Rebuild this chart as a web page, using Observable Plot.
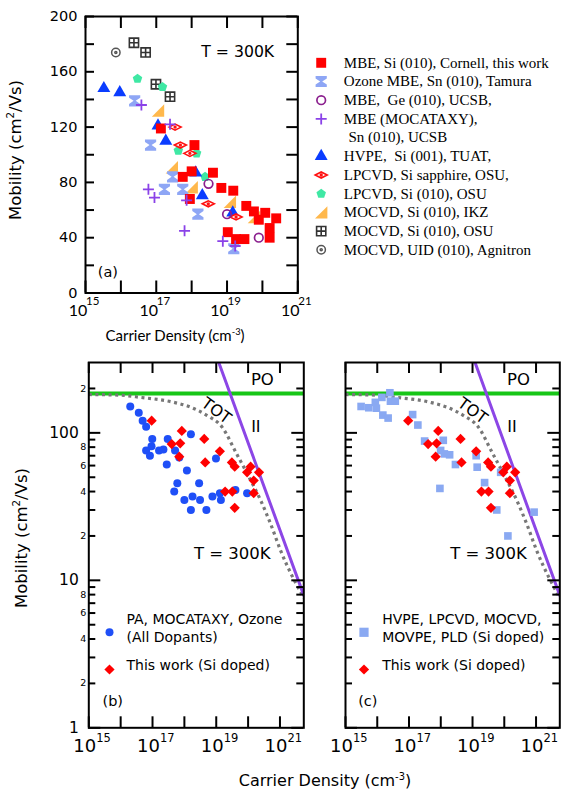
<!DOCTYPE html>
<html><head><meta charset="utf-8">
<script src="https://cdn.jsdelivr.net/npm/d3@7"></script>
<script src="https://cdn.jsdelivr.net/npm/@observablehq/plot@0.6"></script>
<style>
body{margin:0;background:#fff;}
#root{position:relative;width:568px;height:791px;overflow:hidden;font-family:"DejaVu Sans",sans-serif;background:#fff;}
.box{position:absolute;}
.box svg{overflow:visible;background:transparent;display:block;}
.lab{position:absolute;white-space:nowrap;line-height:1;}
.lab sup{font-size:0.62em;line-height:0;vertical-align:0.62em;}
</style></head><body><div id="root"></div>
<script>
// ---------- Panel (a): carrier density (cm^-3) / mobility (cm^2/Vs) ----------
const cornellN  = [1.35e17,1.2e18,5.6e17,1.0e18,4.0e18,6.9e18,1.5e19,8.9e17,3.5e19,5.75e19,1.2e20,2.45e20,7.9e19,1.6e20,1.05e19,1.8e19,3.1e19,1.6e20];
const cornellMu = [119,107,84,88,87,76,74,68,63,59,58,54,53,47,44,39,39,40];
const tamuraN   = [2.45e16,6.9e16,2.9e17,1.7e17,5.6e17,1.5e18,1.55e19];
const tamuraMu  = [139,107,84,75,75,57,32];
const geN       = [3.0e18,1.0e19,7.9e19];
const geMu      = [79,57,40];
const mocataxyN = [3.8e16,2.45e17,6.0e16,8.9e16,6.3e17,7.6e18,1.7e19,7.2e17];
const mocataxyMu= [136,122,75,69,45,37.5,34,67];
const hvpeN     = [3.3e15,9.3e15,1.12e17,1.86e17,1.3e18,2.0e18,1.45e19];
const hvpeMu    = [148,145,121,110,87,70.5,58];
const lpSapN    = [3.4e17,4.8e17,8.9e17,2.95e18,1.8e19];
const lpSapMu   = [120,107,101,64.5,55];
const lpSiN     = [2.95e16,1.5e17,4.2e17,1.38e18,2.4e18];
const lpSiMu    = [155,149,103,101,84];
const ikzN      = [1.12e17,2.75e17,1.0e18,1.2e19,5.75e19];
const ikzMu     = [132,91,76.5,66,55];
const osuN      = [2.34e16,5.0e16,9.8e16,2.45e17];
const osuMu     = [181,174,151,142];
const agnitronN = [7.2e15];
const agnitronMu= [174];

const legendLabels = [
  "MBE, Si (010), Cornell, this work",
  "Ozone MBE, Sn (010), Tamura",
  "MBE,\u00a0 Ge (010), UCSB,",
  "MBE (MOCATAXY),",
  "\u00a0Sn (010), UCSB",
  "HVPE,\u00a0 Si (001), TUAT,",
  "LPCVD, Si sapphire, OSU,",
  "LPCVD, Si (010), OSU",
  "MOCVD, Si (010), IKZ",
  "MOCVD, Si (010), OSU",
  "MOCVD, UID (010), Agnitron"
];

// ---------- Panels (b), (c) ----------
const allDopN  = [2.0e16,3.7e16,4.9e16,6.3e16,9.8e16,9.3e16,6.3e16,8.3e16,1.6e17,2.2e17,3.0e17,5.1e17,6.9e17,2.8e17,1.2e18,1.6e18,6.0e17,4.8e17,2.9e18,1.0e18,1.8e18,3.1e18,1.6e18,4.9e18,7.6e18,9.8e18,1.3e19,1.4e19,4.0e19,9.3e19];
const allDopMu = [151,137,121,110,91,81,76,70,76,77,91,76,68,61,55.5,98,45.6,40,45.6,35,37,35,30,30,37,67,39,35,41,39];
const thisWorkN  = [9.4e16,8.3e17,4.0e17,7.4e17,6.9e17,4.2e18,1.3e19,4.5e18,3.1e19,3.8e19,1.2e20,9.3e19,2.2e20,1.5e20,1.9e19,3.2e19,1.5e20,3.8e19];
const thisWorkMu = [121,103,84,85,69,91,75,63,63,59,59,54,54,47.5,40,40,39,31];
const siDopN  = [3.1e15,5.4e15,8.7e15,9.4e15,1.4e16,2.5e16,2.6e16,3.7e16,1.5e16,2.2e16,1.3e17,1.9e17,3.1e17,1.2e18,9.9e17,1.3e18,1.9e18,2.9e18,1.3e19,1.4e19,9.4e17,2.4e19,5.8e19,7.7e19,1.3e20,8.7e20];
const siDopMu = [151,148,161,147,174,187,164,164,132,126,133,113,88,89,76,72,71,61,70,58.5,42,46,30,54,20,29];

const poMobility = [185];
const totN  = [1e15,1e16,4.2e16,4.7e17,1.6e18,5.2e18,1.55e19,4.1e19,9.5e19,2.5e20,5.1e20,1.05e21,5.6e21];
const totMu = [182,180,174,161,149,131,109,74,52.6,34.7,24.1,15.9,7.6];
const iiN  = [1.2e19,5.6e21];
const iiMu = [300,7.9];

// tick values / labels
const aXTicks = [1e15,1e16,1e17,1e18,1e19,1e20,1e21];
const aYTicks = [0,20,40,60,80,100,120,140,160,180,200];
const aYLabels = [0,40,80,120,160,200];
const xLabelTicks = [1e15,1e17,1e19,1e21];
const xLabelExp = ["15","17","19","21"];
const logMajor = [1,10,100];
const logMinor = [2,3,4,5,6,7,8,9,20,30,40,50,60,70,80,90,200];
const logSmallLabels = [2,4,6,8,20,40,60,80,200];

// ---------- helpers ----------
const root = document.getElementById("root");
const SANS = '"DejaVu Sans", sans-serif';
function place(svg, left, top){
  const d = document.createElement("div");
  d.className = "box"; d.style.left = left+"px"; d.style.top = top+"px";
  d.appendChild(svg); root.appendChild(d);
}
function label(html, cx, cy, size, family, rotate){
  const d = document.createElement("div");
  d.className = "lab"; d.innerHTML = html;
  d.style.left = cx+"px"; d.style.top = cy+"px";
  d.style.fontSize = size+"px"; d.style.fontFamily = family;
  d.style.transform = "translate(-50%,-50%)" + (rotate ? ` rotate(${rotate}deg)` : "");
  root.appendChild(d);
}
const zip = (ns, ms) => ns.map((n,i)=>({n, mu: ms[i]}));
const rr = s => Math.sqrt(s/Math.PI);
const symHourglass = {draw(c,s){const r=rr(s);c.moveTo(-r,-r);c.lineTo(r,-r);c.lineTo(r,-0.55*r);c.lineTo(0.18*r,0);c.lineTo(r,0.55*r);c.lineTo(r,r);c.lineTo(-r,r);c.lineTo(-r,0.55*r);c.lineTo(-0.18*r,0);c.lineTo(-r,-0.55*r);c.closePath();}};
const symEye = {draw(c,s){const r=rr(s);c.moveTo(-1.5*r,0);c.lineTo(0,-0.75*r);c.lineTo(1.5*r,0);c.lineTo(0,0.75*r);c.closePath();c.moveTo(0.22*r,0);c.arc(0,0,0.22*r,0,2*Math.PI);}};
const symPent = {draw(c,s){const r=rr(s);for(let i=0;i<5;i++){const a=-Math.PI/2+i*2*Math.PI/5;const x=r*Math.cos(a),y=r*Math.sin(a);i?c.lineTo(x,y):c.moveTo(x,y);}c.closePath();}};
const symRTri = {draw(c,s){const r=rr(s);c.moveTo(r,-r);c.lineTo(r,r);c.lineTo(-r,r);c.closePath();}};
const symGrid = {draw(c,s){const r=rr(s);c.rect(-r,-r,2*r,2*r);c.moveTo(0,-r);c.lineTo(0,r);c.moveTo(-r,0);c.lineTo(r,0);}};
const symCircDot = {draw(c,s){const r=rr(s);c.moveTo(r,0);c.arc(0,0,r,0,2*Math.PI);c.moveTo(0.25*r,0);c.arc(0,0,0.25*r,0,2*Math.PI);}};
const symPlus = {draw(c,s){const r=rr(s);c.moveTo(-r,0);c.lineTo(r,0);c.moveTo(0,-r);c.lineTo(0,r);}};

// series styling for panel (a), drawn in this order
const seriesA = [
  {n:osuN, mu:osuMu, symbol:symGrid, fill:"white", stroke:"#333", strokeWidth:1.6, r:4.6},
  {n:agnitronN, mu:agnitronMu, symbol:symCircDot, fill:"none", stroke:"#555", strokeWidth:1.5, r:4.2},
  {n:lpSiN, mu:lpSiMu, symbol:symPent, fill:"#3fe8a4", r:5},
  {n:ikzN, mu:ikzMu, symbol:symRTri, fill:"#ffb84c", r:6.2},
  {n:hvpeN, mu:hvpeMu, symbol:"triangle", fill:"#0a3cff", r:4.8},
  {n:tamuraN, mu:tamuraMu, symbol:symHourglass, fill:"#8ea6f5", r:5.6},
  {n:lpSapN, mu:lpSapMu, symbol:symEye, fill:"white", stroke:"#ff1010", strokeWidth:1.6, r:4},
  {n:geN, mu:geMu, symbol:"circle", fill:"none", stroke:"#8b1f8e", strokeWidth:1.7, r:4.3},
  {n:cornellN, mu:cornellMu, symbol:"square", fill:"#ff0000", r:5.6},
  {n:mocataxyN, mu:mocataxyMu, symbol:symPlus, fill:"none", stroke:"#8a42e8", strokeWidth:1.8, r:5.5}
];
// legend order -> series index (null = continuation line)
const legendSeries = [8,5,7,9,null,4,6,2,3,0,1];

// ---------- Panel (a) ----------
{
  const W=310,H=345,ml=85,mr=12.7,mt=16,mb=52.5;
  const iW=W-ml-mr, iH=H-mt-mb;
  const marks = [
    Plot.tickX(aXTicks,{x:d=>d, insetTop:iH-12, strokeWidth:2}),
    Plot.tickX(aXTicks,{x:d=>d, insetBottom:iH-12, strokeWidth:2}),
    Plot.tickY(aYTicks,{y:d=>d, insetRight:iW-9, strokeWidth:2}),
    Plot.tickY(aYTicks,{y:d=>d, insetLeft:iW-11, strokeWidth:2}),
    Plot.text(aYLabels,{y:d=>d, frameAnchor:"left", dx:-8, textAnchor:"end", text:d=>String(d), fontSize:14.5, fontFamily:SANS}),
    Plot.text(xLabelTicks,{x:d=>d, frameAnchor:"bottom", dy:22.5, dx:-7.5, text:()=>"10", fontSize:16, fontFamily:"Lato"}),
    Plot.text(xLabelTicks,{x:d=>d, frameAnchor:"bottom", dy:12, dx:0.5, textAnchor:"start", text:(d,i)=>xLabelExp[i], fontSize:11.5, fontFamily:"Lato"}),
    ...seriesA.map(s => Plot.dot(zip(s.n,s.mu),{x:"n", y:"mu", symbol:s.symbol, fill:s.fill, stroke:s.stroke||"none", strokeWidth:s.strokeWidth||1, r:s.r})),
    Plot.text([{t:"T = 300K", n:2.0e19, mu:174}],{x:"n", y:"mu", text:"t", fontSize:15.7, fontFamily:SANS}),
    Plot.text([{t:"(a)", n:4.3e15, mu:15}],{x:"n", y:"mu", text:"t", fontSize:14.5, fontFamily:SANS}),
    Plot.frame({strokeWidth:2})
  ];
  place(Plot.plot({width:W,height:H,marginLeft:ml,marginRight:mr,marginTop:mt,marginBottom:mb,
    x:{type:"log",domain:[1e15,1e21],axis:null}, y:{domain:[0,200],axis:null},
    style:{background:"transparent",overflow:"visible"}, marks}), 0, 0);
}

// ---------- Legend (a) ----------
{
  const marks = [];
  legendSeries.forEach((si,row)=>{
    if(si===null) return;
    const s = seriesA[si];
    marks.push(Plot.dot([row],{x:()=>0, y:d=>d, symbol:s.symbol, fill:s.fill, stroke:s.stroke||"none", strokeWidth:s.strokeWidth||1, r:s.r}));
  });
  marks.push(Plot.text(legendLabels,{x:(d,i)=>i===4?1.04:1, y:(d,i)=>i, text:d=>d, textAnchor:"start", fontSize:15, fontFamily:'"Liberation Serif", serif'}));
  place(Plot.plot({width:268,height:210,margin:0,
    x:{domain:[0,1],range:[20.7,43.3],axis:null}, y:{domain:[0,10],range:[12.3,199.3],axis:null},
    style:{background:"transparent",overflow:"visible"}, marks}), 300, 50);
}

// ---------- Panels (b), (c) ----------
function logPanel(cfg){
  const {W,H,ml,mr,mt,mb} = cfg;
  const iW=W-ml-mr, iH=H-mt-mb;
  const marks = [
    Plot.ruleY(poMobility,{y:d=>d, stroke:"#17c617", strokeWidth:4}),
    Plot.line(zip(totN,totMu),{x:"n", y:"mu", stroke:"#777", strokeWidth:3.2, strokeDasharray:"3 3.6", strokeLinecap:"butt", curve:"monotone-x", clip:true}),
    Plot.line(zip(iiN,iiMu),{x:"n", y:"mu", stroke:"#8c46e6", strokeWidth:3, clip:true}),
    ...cfg.dots,
    Plot.tickX(aXTicks,{x:d=>d, insetTop:iH-11, strokeWidth:2}),
    Plot.tickX(aXTicks,{x:d=>d, insetBottom:iH-11, strokeWidth:2}),
    Plot.tickY(logMajor,{y:d=>d, insetRight:iW-12, strokeWidth:2}),
    Plot.tickY(logMajor,{y:d=>d, insetLeft:iW-12, strokeWidth:2}),
    Plot.tickY(logMinor,{y:d=>d, insetRight:iW-7, strokeWidth:2}),
    Plot.tickY(logMinor,{y:d=>d, insetLeft:iW-7, strokeWidth:2}),
    Plot.text(xLabelTicks,{x:d=>d, frameAnchor:"bottom", dy:24, dx:-4, text:()=>"10", fontSize:18, fontFamily:SANS}),
    Plot.text(xLabelTicks,{x:d=>d, frameAnchor:"bottom", dy:14, dx:7.5, textAnchor:"start", text:(d,i)=>xLabelExp[i], fontSize:11.5, fontFamily:SANS}),
    Plot.text([{t:"PO", n:2.8e20, mu:229}],{x:"n", y:"mu", text:"t", fontSize:16.5, fontFamily:SANS}),
    Plot.text([{t:"TOT", n:1.0e19, mu:141}],{x:"n", y:"mu", text:"t", rotate:36, fontSize:16, fontFamily:SANS}),
    Plot.text([{t:"II", n:1.75e20, mu:110}],{x:"n", y:"mu", text:"t", fontSize:16, fontFamily:SANS}),
    Plot.text([{t:"T = 300K", n:3.2e19, mu:15.2}],{x:"n", y:"mu", text:"t", fontSize:16.5, fontFamily:SANS}),
    ...cfg.legend,
    Plot.frame({strokeWidth:2})
  ];
  if(cfg.yLabels){
    marks.push(Plot.text(logMajor,{y:d=>d, frameAnchor:"left", dx:-10, textAnchor:"end", text:d=>String(d), fontSize:15.5, fontFamily:SANS}));
    marks.push(Plot.text(logSmallLabels,{y:d=>d, frameAnchor:"left", dx:-2.5, textAnchor:"end", text:d=>String(d).charAt(0), fontSize:9.5, fontFamily:SANS}));
  }
  return Plot.plot({width:W,height:H,marginLeft:ml,marginRight:mr,marginTop:mt,marginBottom:mb,
    x:{type:"log",domain:[1e15,5.6e21],axis:null}, y:{type:"log",domain:[1,300],axis:null},
    style:{background:"transparent",overflow:"visible"}, marks});
}
const diamondStyle = {symbol:"diamond2", fill:"#ff0000", r:4.6};
function legendMarks(sym, lines, dxSym, dxText){
  return [
    Plot.dot([0],{frameAnchor:"bottom-left", dx:dxSym, dy:-95.5, ...sym}),
    Plot.text([lines[0]],{frameAnchor:"bottom-left", dx:dxText, dy:-104, text:d=>d, textAnchor:"start", fontSize:14, fontFamily:SANS}),
    Plot.text([lines[1]],{frameAnchor:"bottom-left", dx:dxText, dy:-85.6, text:d=>d, textAnchor:"start", fontSize:14, fontFamily:SANS}),
    Plot.dot([0],{frameAnchor:"bottom-left", dx:dxSym, dy:-58.3, ...diamondStyle}),
    Plot.text(["This work (Si doped)"],{frameAnchor:"bottom-left", dx:dxText, dy:-58.3, text:d=>d, textAnchor:"start", fontSize:14, fontFamily:SANS}),
    Plot.text([lines[2]],{frameAnchor:"bottom-left", dx:dxText-24, dy:-22.3, text:d=>d, textAnchor:"start", fontSize:14.5, fontFamily:SANS})
  ];
}
{
  const circ = {symbol:"circle", fill:"#1f4ff7", r:4};
  place(logPanel({W:310,H:451,ml:88.3,mr:6.7,mt:22,mb:63.7, yLabels:true,
    dots:[Plot.dot(zip(allDopN,allDopMu),{x:"n", y:"mu", ...circ}),
          Plot.dot(zip(thisWorkN,thisWorkMu),{x:"n", y:"mu", ...diamondStyle})],
    legend: legendMarks(circ, ["PA, MOCATAXY, Ozone","(All Dopants)","(b)"], 20.7, 37.7)
  }), 0, 340);
  const sq = {symbol:"square", fill:"#8aa9f2", r:4.3};
  place(logPanel({W:258,H:451,ml:35,mr:8.7,mt:22,mb:63.7, yLabels:false,
    dots:[Plot.dot(zip(siDopN,siDopMu),{x:"n", y:"mu", ...sq}),
          Plot.dot(zip(thisWorkN,thisWorkMu),{x:"n", y:"mu", ...diamondStyle})],
    legend: legendMarks({...sq, r:5.2}, ["HVPE, LPCVD, MOCVD,","MOVPE, PLD (Si doped)","(c)"], 18.5, 36.7)
  }), 310, 340);
}

// ---------- axis titles ----------
label("Mobility (cm<sup>2</sup>/Vs)", 16, 150, 16.5, SANS, -90);
label("Carrier Density (cm<sup>-3</sup>)", 175, 335, 15, "Lato");
label("Mobility (cm<sup>2</sup>/Vs)", 22, 538, 16.5, SANS, -90);
label("Carrier Density (cm<sup>-3</sup>)", 325, 781, 16, SANS);
</script></body></html>
